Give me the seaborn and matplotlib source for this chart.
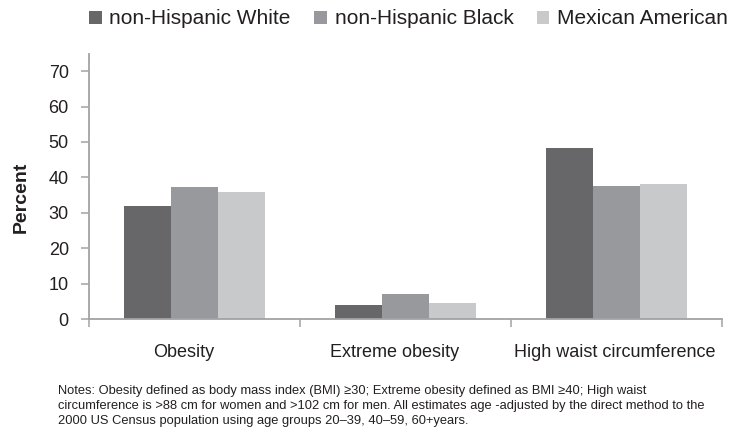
import matplotlib
matplotlib.use("Agg")
import matplotlib.pyplot as plt
import matplotlib.transforms as mtransforms
from matplotlib.patches import Patch
import seaborn as sns
import pandas as pd

# Age-adjusted prevalence (%) by race/ethnicity
measures = ["Obesity", "Extreme obesity", "High waist circumference"]
groups = ["non-Hispanic White", "non-Hispanic Black", "Mexican American"]
white = [31.8, 3.9, 48.2]
black = [37.2, 7.0, 37.5]
mexican = [35.8, 4.4, 38.0]
yticks = [0, 10, 20, 30, 40, 50, 60, 70]

colors = ["#67676a", "#98999d", "#c8c9cb"]
axis_gray = "#a3a3a6"
text_color = "#231f20"

rows = []
for g, vals in zip(groups, [white, black, mexican]):
    for m, v in zip(measures, vals):
        rows.append({"measure": m, "group": g, "percent": v})
df = pd.DataFrame(rows)

sns.set_theme(style="white")
plt.rcParams["font.family"] = ["Liberation Sans", "DejaVu Sans"]
plt.rcParams["text.color"] = text_color

fig = plt.figure(figsize=(7.34, 4.30), dpi=100)
ax = fig.add_axes([89 / 734, 1 - 319 / 430, 633 / 734, 265.5 / 430])

sns.barplot(data=df, x="measure", y="percent", hue="group", order=measures,
            hue_order=groups, palette=colors, width=0.67, saturation=1,
            linewidth=0, ax=ax, legend=False)

ax.set_xlim(-0.5, len(measures) - 0.5)
ax.set_ylim(0, 75)
ax.set_yticks(yticks)
ax.tick_params(axis="y", which="major", direction="out", length=6,
               width=1.1, color=axis_gray, pad=8.5, labelsize=13,
               labelcolor=text_color, left=True)

# category separators as minor ticks, labels at category centres
ax.set_xticks([i - 0.5 for i in range(len(measures) + 1)], minor=True)
ax.set_xticks(range(len(measures)))
ax.set_xticklabels(measures)
ax.tick_params(axis="x", which="major", length=0, pad=18, labelsize=13,
               labelcolor=text_color)
ax.tick_params(axis="x", which="minor", direction="out", length=5.5,
               width=1.1, color=axis_gray, bottom=True)
label_shift = [-11, -11, -2]
for lab, dx in zip(ax.get_xticklabels(), label_shift):
    lab.set_transform(lab.get_transform() +
                      mtransforms.ScaledTranslation(dx / 100, 0, fig.dpi_scale_trans))

ax.set_xlabel("")
ax.set_ylabel("Percent", fontsize=14, fontweight="bold", color=text_color)
ax.yaxis.set_label_coords(-0.094, 0.46)

for side in ["top", "right"]:
    ax.spines[side].set_visible(False)
for side in ["left", "bottom"]:
    ax.spines[side].set_color(axis_gray)
    ax.spines[side].set_linewidth(1.3)

handles = [Patch(facecolor=c, edgecolor="none", label=g) for c, g in zip(colors, groups)]
fig.legend(handles=handles, loc="center left", bbox_to_anchor=(89 / 734, 1 - 19 / 430),
           ncol=3, frameon=False, fontsize=15, handlelength=0.6, handleheight=0.6,
           handletextpad=0.38, columnspacing=1.12, borderpad=0, borderaxespad=0)

notes = ("Notes: Obesity defined as body mass index (BMI) \u226530; Extreme obesity defined as BMI \u226540; High waist\n"
         "circumference is >88 cm for women and >102 cm for men. All estimates age -adjusted by the direct method to the\n"
         "2000 US Census population using age groups 20\u201339, 40\u201359, 60+years.")
fig.text(58 / 734, 1 - 385 / 430, notes, fontsize=9.3, va="top", ha="left",
         linespacing=1.35, color=text_color)

fig.savefig("out.png", dpi=100, facecolor="white")
